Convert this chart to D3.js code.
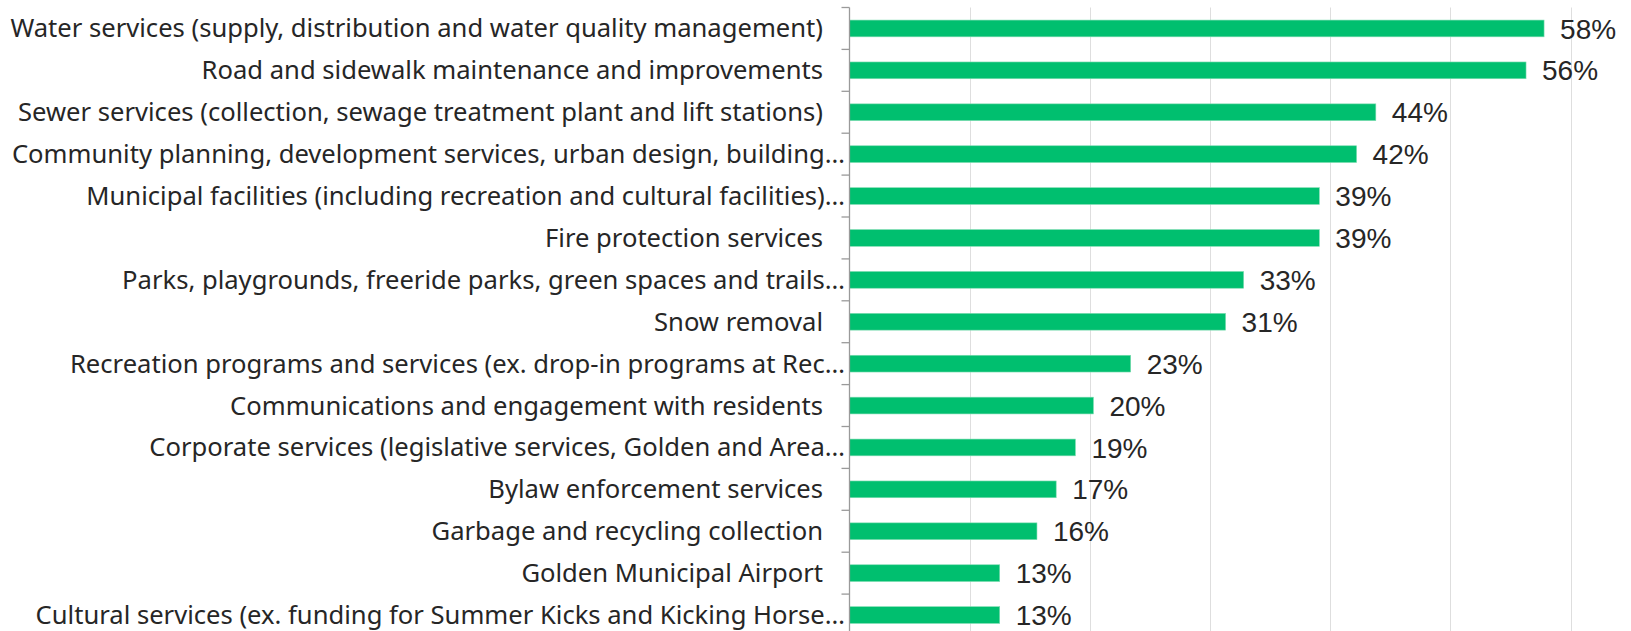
<!DOCTYPE html>
<html>
<head>
<meta charset="utf-8">
<script src="https://cdn.jsdelivr.net/npm/d3@7"></script>
<style>
  html, body { margin: 0; padding: 0; background: #fff; }
  svg { display: block; }
</style>
</head>
<body>
<div id="chart"></div>
<script>
// categories, top to bottom (Excel truncates the long ones with an ellipsis)
const categories = [
    "Water services (supply, distribution and water quality management)",
    "Road and sidewalk maintenance and improvements",
    "Sewer services (collection, sewage treatment plant and lift stations)",
    "Community planning, development services, urban design, building…",
    "Municipal facilities (including recreation and cultural facilities)…",
    "Fire protection services",
    "Parks, playgrounds, freeride parks, green spaces and trails…",
    "Snow removal",
    "Recreation programs and services (ex. drop-in programs at Rec…",
    "Communications and engagement with residents",
    "Corporate services (legislative services, Golden and Area…",
    "Bylaw enforcement services",
    "Garbage and recycling collection",
    "Golden Municipal Airport",
    "Cultural services (ex. funding for Summer Kicks and Kicking Horse…"
];

// share of respondents, in percent
const values = [57.8, 56.3, 43.8, 42.2, 39.1, 39.1, 32.8, 31.3, 23.4, 20.3, 18.8, 17.2, 15.6, 12.5, 12.5];

// gridlines every 10 points
const gridTicks = [10, 20, 30, 40, 50, 60];

const width = 1631;
const height = 631;
const axisX = 849.5;
const plotTop = 7.5;
const step = 41.9;

const svg = d3.select("#chart").append("svg")
    .attr("width", width)
    .attr("height", height);

const x = d3.scaleLinear()
    .domain([0, 60])
    .range([axisX, 1570.5]);

const y = d3.scaleBand()
    .domain(categories)
    .range([plotTop, plotTop + step * categories.length])
    .paddingInner(0.6)
    .paddingOuter(0.3);

// vertical gridlines
svg.append("g")
    .selectAll("line")
    .data(gridTicks)
    .enter()
    .append("line")
    .attr("x1", d => Math.round(x(d)) + 0.5)
    .attr("x2", d => Math.round(x(d)) + 0.5)
    .attr("y1", plotTop)
    .attr("y2", height)
    .style("stroke", "#dedede")
    .style("stroke-width", 1);

// bars
svg.append("g")
    .selectAll("rect")
    .data(values)
    .enter()
    .append("rect")
    .attr("x", x(0))
    .attr("y", (d, i) => y(categories[i]))
    .attr("width", d => x(d) - x(0))
    .attr("height", y.bandwidth())
    .style("fill", "#00bf6f")
    .style("stroke", "#7fdcb2")
    .style("stroke-width", 0.6);

// category axis: tick marks sit between categories
const boundaries = d3.range(categories.length + 1).map(i => plotTop + i * y.step());
const axis = svg.append("g");
axis.append("line")
    .attr("x1", axisX).attr("x2", axisX)
    .attr("y1", plotTop).attr("y2", height)
    .style("stroke", "#9a9a9a")
    .style("stroke-width", 1.3);
axis.selectAll("line.tick")
    .data(boundaries)
    .enter()
    .append("line")
    .attr("class", "tick")
    .attr("x1", axisX - 8).attr("x2", axisX)
    .attr("y1", d => d).attr("y2", d => d)
    .style("stroke", "#9a9a9a")
    .style("stroke-width", 1.3);

// category labels (untruncated ones carry a trailing space in the source)
const labelEnd = d => d.endsWith("…") ? axisX - 4.5 : axisX - 26.5;
svg.append("g")
    .selectAll("text")
    .data(categories)
    .enter()
    .append("text")
    .attr("x", d => labelEnd(d))
    .attr("y", d => y(d) + y.bandwidth() / 2)
    .attr("dy", "0.35em")
    .attr("text-anchor", "end")
    .style("font-family", "'Noto Sans', sans-serif")
    .style("font-size", "25.6px")
    .style("fill", "#262626")
    .text(d => d);

// value labels
svg.append("g")
    .selectAll("text")
    .data(values)
    .enter()
    .append("text")
    .attr("x", d => x(d) + 16)
    .attr("y", (d, i) => y(categories[i]) + y.bandwidth() / 2)
    .attr("dy", "0.36em")
    .style("font-family", "'Liberation Sans', Arial, sans-serif")
    .style("font-size", "28px")
    .style("fill", "#262626")
    .text(d => Math.round(d) + "%");
</script>
</body>
</html>
